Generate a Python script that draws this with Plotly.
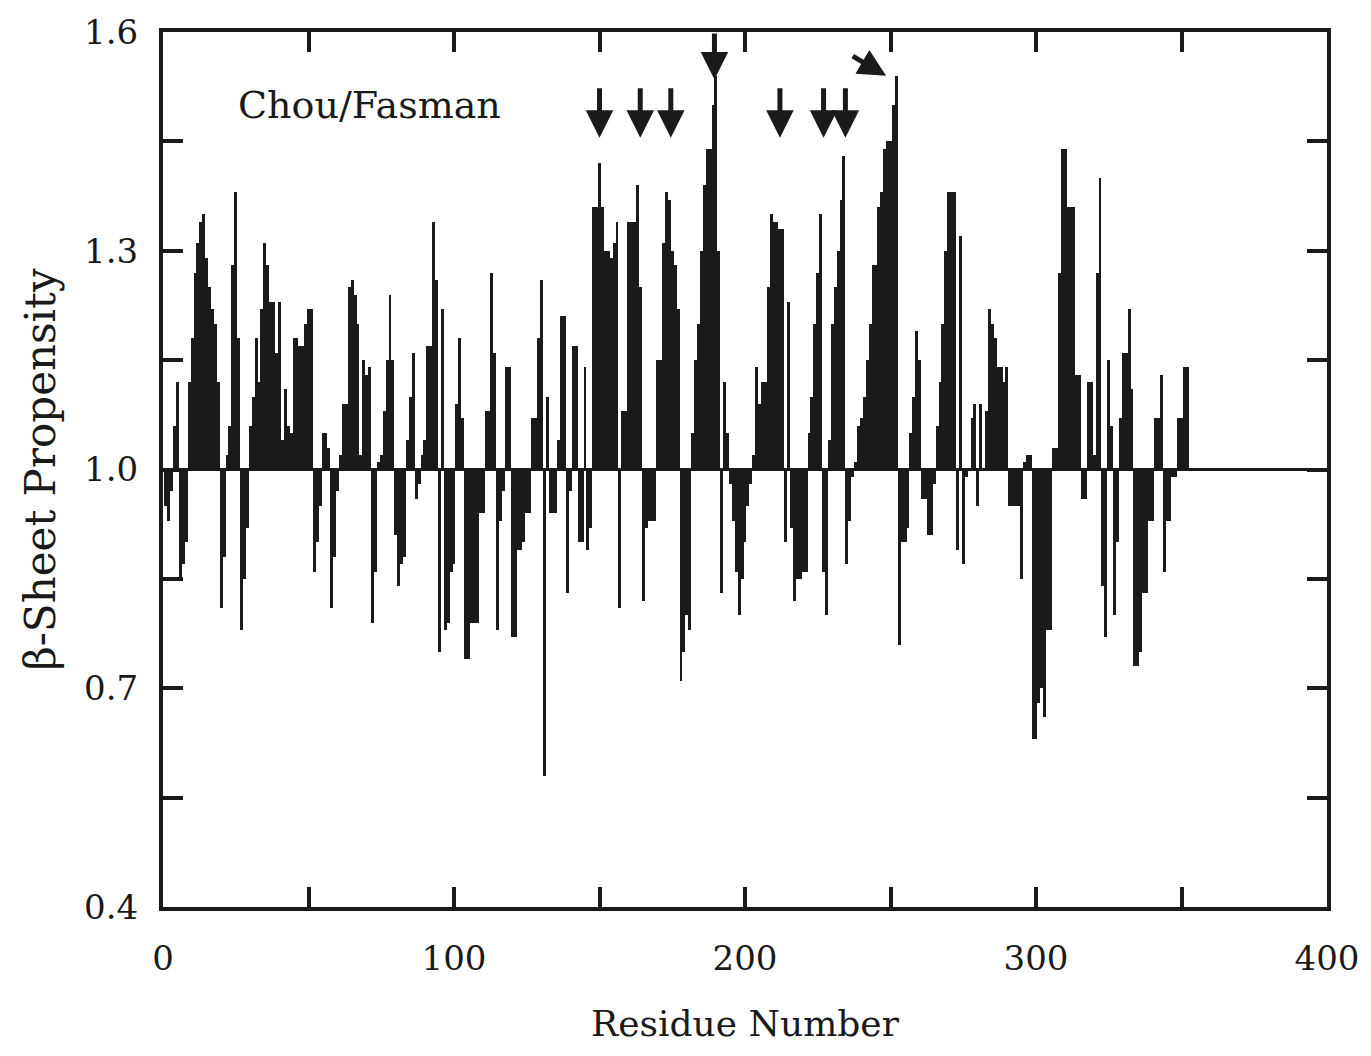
import plotly.graph_objects as go

# ---------------- data ----------------
residues = list(range(1, 353))
propensity = [
    0.95, 0.93, 0.97, 1.06, 1.12, 0.85, 0.87, 0.90, 1.12, 1.18,
    1.27, 1.31, 1.34, 1.35, 1.29, 1.25, 1.22, 1.20, 1.12, 0.81,
    0.88, 1.02, 1.06, 1.28, 1.38, 1.18, 0.78, 0.85, 0.92, 1.06,
    1.10, 1.18, 1.12, 1.22, 1.31, 1.28, 1.23, 1.23, 1.16, 1.23,
    1.04, 1.11, 1.06, 1.05, 1.18, 1.18, 1.17, 1.17, 1.20, 1.22,
    1.22, 0.86, 0.90, 0.95, 1.05, 1.05, 1.03, 0.81, 0.88, 0.97,
    1.02, 1.09, 1.09, 1.25, 1.26, 1.24, 1.20, 1.02, 1.15, 1.13,
    1.14, 0.79, 0.86, 1.01, 1.02, 1.08, 1.15, 1.24, 1.15, 0.91,
    0.84, 0.87, 0.88, 1.04, 1.10, 1.16, 0.96, 0.98, 1.02, 1.04,
    1.17, 1.17, 1.34, 1.26, 0.75, 1.22, 0.78, 0.79, 0.86, 0.87,
    1.09, 1.18, 1.07, 0.74, 0.74, 0.79, 0.79, 0.79, 0.94, 0.94,
    1.08, 1.08, 1.27, 1.16, 0.78, 0.93, 0.97, 1.14, 1.14, 0.77,
    0.77, 0.89, 0.89, 0.90, 0.94, 0.94, 1.07, 1.07, 1.18, 1.26,
    0.58, 1.10, 0.94, 0.94, 0.94, 1.04, 1.21, 1.21, 0.83, 0.97,
    1.17, 1.17, 0.90, 0.90, 1.14, 0.89, 0.92, 1.36, 1.36, 1.42,
    1.36, 1.30, 1.30, 1.29, 1.31, 1.34, 0.81, 1.08, 1.08, 1.34,
    1.34, 1.34, 1.39, 1.25, 0.82, 0.92, 0.93, 0.93, 0.93, 1.15,
    1.15, 1.31, 1.38, 1.37, 1.30, 1.28, 1.22, 0.71, 0.75, 0.80,
    0.78, 1.05, 1.15, 1.20, 1.30, 1.39, 1.44, 1.44, 1.50, 1.54,
    1.30, 0.83, 1.12, 1.05, 0.98, 0.93, 0.86, 0.80, 0.85, 0.90,
    0.95, 0.98, 1.02, 1.14, 1.09, 1.12, 1.12, 1.25, 1.35, 1.34,
    1.34, 1.33, 1.33, 0.90, 1.23, 0.92, 0.82, 0.85, 0.85, 0.86,
    0.86, 1.05, 1.10, 1.20, 1.27, 1.35, 0.86, 0.80, 1.04, 1.20,
    1.25, 1.30, 1.37, 1.43, 0.87, 0.93, 0.99, 1.01, 1.06, 1.07,
    1.10, 1.15, 1.20, 1.28, 1.28, 1.36, 1.38, 1.44, 1.45, 1.45,
    1.50, 1.54, 0.76, 0.90, 0.90, 0.92, 1.05, 1.10, 1.19, 1.15,
    0.96, 0.96, 0.91, 0.91, 0.98, 1.06, 1.12, 1.20, 1.30, 1.38,
    1.38, 1.38, 0.89, 1.32, 0.87, 0.99, 1.00, 1.07, 1.09, 0.95,
    1.09, 1.00, 1.08, 1.22, 1.20, 1.18, 1.14, 1.14, 1.12, 1.14,
    0.95, 0.95, 0.95, 0.95, 0.85, 1.01, 1.02, 1.02, 0.63, 0.63,
    0.68, 0.70, 0.66, 0.78, 0.78, 1.03, 1.03, 1.27, 1.44, 1.44,
    1.36, 1.36, 1.36, 1.13, 1.13, 0.96, 0.96, 1.12, 1.12, 1.02,
    1.27, 1.40, 0.84, 0.77, 1.15, 1.06, 0.80, 0.90, 1.07, 1.16,
    1.16, 1.22, 1.11, 0.73, 0.73, 0.75, 0.83, 0.83, 0.93, 0.93,
    1.07, 1.07, 1.13, 0.86, 0.93, 0.93, 0.99, 0.99, 1.07, 1.07,
    1.14, 1.14,
]
baseline = 1.0

x_tick_vals = [0, 50, 100, 150, 200, 250, 300, 350, 400]
x_tick_text = ["0", "", "100", "", "200", "", "300", "", "400"]
y_tick_vals = [0.4, 0.55, 0.7, 0.85, 1.0, 1.15, 1.3, 1.45, 1.6]
y_tick_text = ["0.4", "", "0.7", "", "1.0", "", "1.3", "", "1.6"]

# vertical arrows: residue, tail value, tip value
arrow_res = [150, 164, 174.5, 189.5, 212, 227, 234.5]
arrow_tail = [1.525, 1.525, 1.525, 1.60, 1.525, 1.525, 1.525]
arrow_tip = [1.455, 1.455, 1.455, 1.535, 1.455, 1.455, 1.455]
# diagonal arrow: (tail residue, tail value) -> (tip residue, tip value)
diag_tail = (236.5, 1.568)
diag_tip = (248.5, 1.540)

label_text = "Chou/Fasman"
x_title = "Residue Number"
y_title = "β-Sheet Propensity"

FONT = "DejaVu Serif"
INK = "#1a1a1a"

# ---------------- figure ----------------
fig = go.Figure()
fig.add_trace(go.Bar(
    x=residues,
    y=[v - baseline for v in propensity],
    base=baseline,
    width=1.0,
    marker=dict(color=INK, line=dict(width=0)),
    showlegend=False,
))

fig.add_shape(type="line", xref="x", yref="y", x0=0, x1=400, y0=baseline, y1=baseline,
              line=dict(color=INK, width=3), layer="above")

annotations = []
for xr, yt, yh in zip(arrow_res, arrow_tail, arrow_tip):
    annotations.append(dict(
        x=xr, y=yh, ax=xr, ay=yt, xref="x", yref="y", axref="x", ayref="y",
        text="", showarrow=True, arrowhead=2, arrowsize=1.1, arrowwidth=5,
        arrowcolor=INK, standoff=0, startstandoff=0,
    ))
annotations.append(dict(
    x=diag_tip[0], y=diag_tip[1], ax=diag_tail[0], ay=diag_tail[1],
    xref="x", yref="y", axref="x", ayref="y",
    text="", showarrow=True, arrowhead=2, arrowsize=1.1, arrowwidth=5,
    arrowcolor=INK, standoff=0,
))
annotations.append(dict(
    x=25, y=1.50, xref="x", yref="y", text=label_text, showarrow=False,
    xanchor="left", yanchor="middle", font=dict(family=FONT, size=38, color=INK),
))

fig.update_layout(
    width=1371, height=1056,
    margin=dict(l=163, r=44, t=27, b=149),
    paper_bgcolor="white", plot_bgcolor="white",
    bargap=0,
    annotations=annotations,
    font=dict(family=FONT, color=INK),
)
fig.update_xaxes(
    range=[0, 400], tickmode="array", tickvals=x_tick_vals, ticktext=x_tick_text,
    ticks="inside", ticklen=20, tickwidth=4, tickcolor=INK,
    showline=True, linewidth=4, linecolor=INK, mirror="ticks",
    showgrid=False, zeroline=False,
    tickfont=dict(family=FONT, size=34, color=INK),
    ticklabelstandoff=18,
    title=dict(text=x_title, font=dict(family=FONT, size=36, color=INK), standoff=35),
)
fig.update_yaxes(
    range=[0.4, 1.6], tickmode="array", tickvals=y_tick_vals, ticktext=y_tick_text,
    ticks="inside", ticklen=20, tickwidth=4, tickcolor=INK,
    showline=True, linewidth=4, linecolor=INK, mirror="ticks",
    showgrid=False, zeroline=False,
    tickfont=dict(family=FONT, size=34, color=INK),
    ticklabelstandoff=14,
    title=dict(text=y_title, font=dict(family=FONT, size=42, color=INK), standoff=16),
)

# remove the default 8px page margin so the figure fills the browser window exactly
fig.write_html("out.html", config={"displayModeBar": False},
               post_script="document.body.style.margin='0';")
